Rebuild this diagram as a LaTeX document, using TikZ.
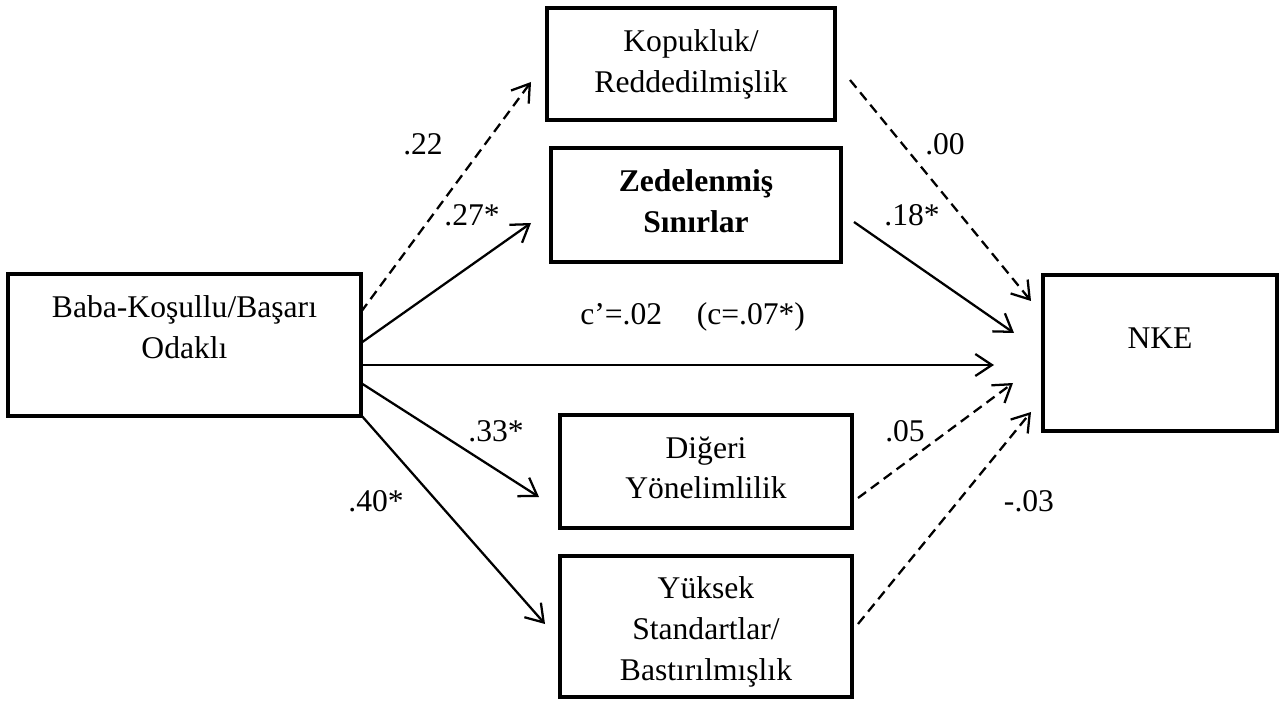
\documentclass[tikz,border=0pt]{standalone}
\usepackage{fontspec}
\setmainfont{Liberation Serif}
\usetikzlibrary{arrows.meta,calc}
\newcommand\mlines[1]{\begin{tabular}[t]{@{}c@{}}#1\end{tabular}}
\begin{document}
\begin{tikzpicture}[x=0.75pt,y=-0.75pt,
  every node/.style={font=\fontsize{23.7pt}{30.75pt}\selectfont},
  box/.style={draw,line width=3.3pt,outer sep=0pt,inner sep=0pt,text height=21.5pt},
  lab/.style={anchor=base,inner sep=0pt},
  conn/.style={line width=1.7pt,-{Straight Barb[length=12.5pt,width=16.5pt,line width=1.7pt]}},
  dconn/.style={conn,dash pattern=on 7.5pt off 4.5pt}]
\useasboundingbox (0,0) rectangle (1286,702);
% boxes
\node[box,minimum width=264.75pt,minimum height=106.5pt,text depth=62pt] (L) at (184.5,345) {\mlines{Baba-Koşullu/Başarı\\Odaklı}};
\node[box,minimum width=216pt,minimum height=84pt,text depth=39.5pt] (K) at (691,64) {\mlines{Kopukluk/\\Reddedilmişlik}};
\node[box,minimum width=217.5pt,minimum height=85.5pt,text depth=41pt] (Z) at (696,205) {\mlines{\bfseries Zedelenmiş\\\bfseries Sınırlar}};
\node[box,minimum width=219pt,minimum height=84.75pt,text depth=41.75pt] (D) at (706,471.5) {\mlines{Diğeri\\Yönelimlilik}};
\node[box,minimum width=219pt,minimum height=105.75pt,text depth=64.25pt] (Y) at (706,626.5) {\mlines{Yüksek\\Standartlar/\\Bastırılmışlık}};
\node[box,minimum width=175.5pt,minimum height=117pt,text depth=27.5pt] (N) at (1160,353) {\mlines{NKE}};
% connectors
\draw[dconn] ($(L.east)+(0,-33)$) -- ($(K.west)+(-16,18)$);
\draw[conn]  ($(L.east)+(0,-2)$)  -- ($(Z.west)+(-20,18)$);
\draw[conn]  ($(L.east)+(0,20)$)  -- ($(N.west)+(-49,12)$);
\draw[conn]  ($(L.east)+(0,38)$)  -- ($(D.west)+(-21,25.5)$);
\draw[conn]  ($(L.east)+(0,70)$)  -- ($(Y.west)+(-15,-2.5)$);
\draw[dconn] ($(K.east)+(15,16)$) -- ($(N.west)+(-12,-52)$);
\draw[conn]  ($(Z.east)+(13,17)$) -- ($(N.west)+(-29,-20)$);
\draw[dconn] ($(D.east)+(6,26.5)$) -- ($(N.west)+(-30,30)$);
\draw[dconn] ($(Y.east)+(6,-2.5)$) -- ($(N.west)+(-12,59)$);
% labels
\node[lab] (l22) at (423,155) {.22};
\node[lab] (l27) at (472,226) {.27*};
\node[lab] (l00) at (945,155) {.00};
\node[lab] (l18) at (912,226) {.18*};
\node[lab] (l33) at (496,441) {.33*};
\node[lab] (l05) at (905,441) {.05};
\node[lab] (l40) at (376,511) {.40*};
\node[lab] (l03) at (1029,511) {-.03};
\node[lab,anchor=base west] (lc) at (580,325) {c’=.02\hspace{26pt}(c=.07*)};
\end{tikzpicture}
\end{document}
